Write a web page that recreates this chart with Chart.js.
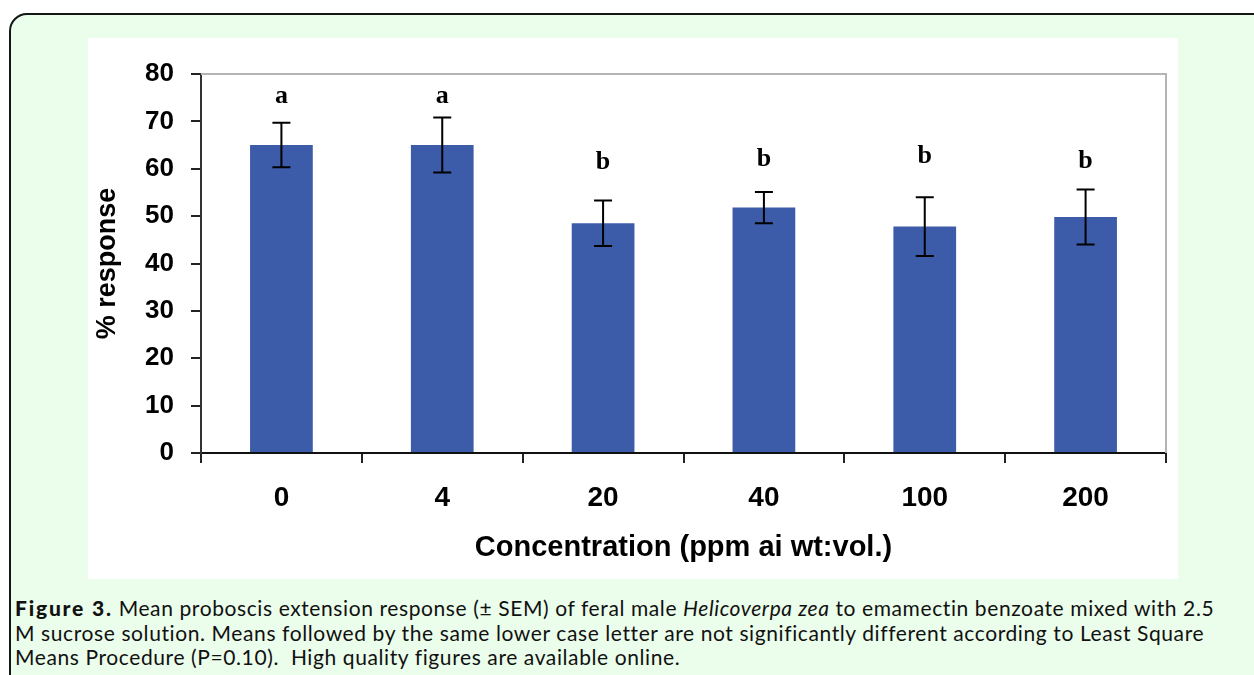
<!DOCTYPE html>
<html>
<head>
<meta charset="utf-8">
<script src="https://cdn.jsdelivr.net/npm/chart.js@4.4.1/dist/chart.umd.min.js"></script>
<style>
  html, body { margin: 0; padding: 0; background: #fff; width: 1254px; height: 675px; overflow: hidden; }
  #panel {
    position: absolute; left: 9px; top: 13px; width: 1280px; height: 700px;
    box-sizing: border-box; border: 2px solid #161616; border-radius: 18px;
    background: #ebfdeb;
  }
  #plot {
    position: absolute; left: 88px; top: 38px; width: 1090px; height: 541px; background: #fff;
  }
  #caption {
    position: absolute; left: 15px; top: 596px; white-space: nowrap;
    font-family: Lato, "Noto Sans", sans-serif; font-size: 21px; line-height: 24.5px;
    letter-spacing: 0.6px; color: #111;
  }
  #caption b { font-weight: 900; letter-spacing: 1.8px; }
</style>
</head>
<body>
<div id="panel"></div>
<div id="plot"><canvas id="chart" width="1090" height="541"></canvas></div>
<div id="caption"><b>Figure 3.</b> Mean proboscis extension response (± SEM) of feral male <i>Helicoverpa zea</i> to emamectin benzoate mixed with 2.5<br>M sucrose solution. Means followed by the same lower case letter are not significantly different according to Least Square<br>Means Procedure (P=0.10).&nbsp; High quality figures are available online.</div>
<script>
const concentrations = ['0', '4', '20', '40', '100', '200'];
const meanResponse = [65, 65, 48.5, 51.8, 47.8, 49.8];
const semResponse = [4.7, 5.8, 4.8, 3.3, 6.2, 5.8];
const groupLetters = ['a', 'a', 'b', 'b', 'b', 'b'];
const letterLevel = [75.3, 75.3, 61.4, 62.0, 62.7, 61.6];

const errorBars = {
  id: 'errorBars',
  afterDatasetsDraw(chart) {
    const {ctx, chartArea, scales: {y}} = chart;
    const bars = chart.getDatasetMeta(0).data;
    ctx.save();
    // plot border, top and right only
    ctx.strokeStyle = '#b4b4b4';
    ctx.lineWidth = 2;
    ctx.beginPath();
    ctx.moveTo(chartArea.left, chartArea.top);
    ctx.lineTo(chartArea.right, chartArea.top);
    ctx.lineTo(chartArea.right, chartArea.bottom);
    ctx.stroke();

    ctx.strokeStyle = '#000';
    ctx.lineWidth = 2;
    bars.forEach((bar, i) => {
      const hi = y.getPixelForValue(meanResponse[i] + semResponse[i]);
      const lo = y.getPixelForValue(meanResponse[i] - semResponse[i]);
      ctx.beginPath();
      ctx.moveTo(bar.x, hi); ctx.lineTo(bar.x, lo);
      ctx.moveTo(bar.x - 9, hi); ctx.lineTo(bar.x + 9, hi);
      ctx.moveTo(bar.x - 9, lo); ctx.lineTo(bar.x + 9, lo);
      ctx.stroke();
    });

    ctx.fillStyle = '#000';
    ctx.font = 'bold 26px "Liberation Serif", "DejaVu Serif", serif';
    ctx.textAlign = 'center';
    ctx.textBaseline = 'middle';
    bars.forEach((bar, i) => {
      ctx.fillText(groupLetters[i], bar.x, y.getPixelForValue(letterLevel[i]));
    });
    ctx.restore();
  }
};

new Chart(document.getElementById('chart'), {
  type: 'bar',
  data: {
    labels: concentrations,
    datasets: [{
      data: meanResponse,
      backgroundColor: '#3c5ba8',
      borderWidth: 0,
      categoryPercentage: 1,
      barPercentage: 0.39
    }]
  },
  options: {
    responsive: false,
    animation: false,
    layout: {padding: {top: 36, right: 12, left: 0, bottom: 0}},
    plugins: {legend: {display: false}, tooltip: {enabled: false}},
    scales: {
      x: {
        grid: {display: true, drawOnChartArea: false, drawTicks: true, tickLength: 10, tickColor: '#222', lineWidth: 2, offset: true},
        border: {display: true, color: '#111', width: 2},
        ticks: {color: '#000', padding: 18, font: {family: '"Liberation Sans", Arial, sans-serif', size: 28, weight: 'bold'}},
        title: {display: true, text: 'Concentration (ppm ai wt:vol.)', color: '#000', padding: {bottom: 14},
          font: {family: '"Liberation Sans", Arial, sans-serif', size: 29, weight: 'bold'}},
        afterFit(scale) { scale.height = 126; }
      },
      y: {
        min: 0, max: 80,
        grid: {display: true, drawOnChartArea: false, drawTicks: true, tickLength: 10, tickColor: '#222', lineWidth: 2},
        border: {display: true, color: '#333', width: 2},
        ticks: {stepSize: 10, color: '#000', padding: 17, font: {family: '"Liberation Sans", Arial, sans-serif', size: 26, weight: 'bold'}},
        title: {display: true, text: '% response', color: '#000', padding: {top: 3},
          font: {family: '"Liberation Sans", Arial, sans-serif', size: 27, weight: 'bold'}},
        afterFit(scale) { scale.width = 113; }
      }
    }
  },
  plugins: [errorBars]
});
</script>
</body>
</html>
